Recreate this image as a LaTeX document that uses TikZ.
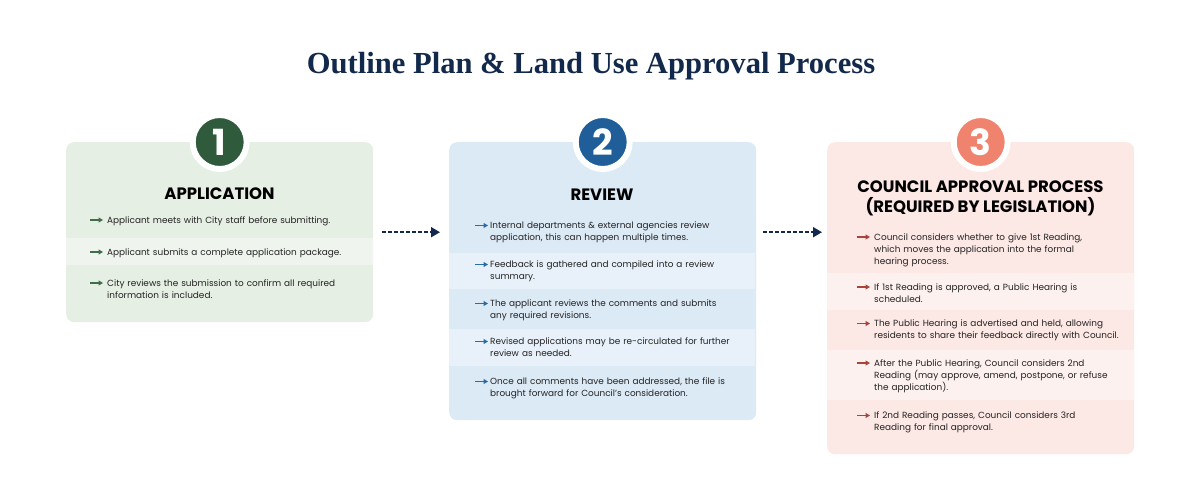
\documentclass[tikz,border=0pt]{standalone}
\usepackage{fontspec}
\setmainfont{Poppins}
\newfontfamily\titlefont{Liberation Serif}
\usetikzlibrary{arrows.meta}
\definecolor{navy}{HTML}{13294B}
\definecolor{textgray}{HTML}{222222}
\definecolor{appfill}{HTML}{E6EFE4}
\definecolor{applight}{HTML}{EFF5EE}
\definecolor{appdark}{HTML}{2F5B3C}
\definecolor{appbul}{HTML}{3F6E4A}
\definecolor{revfill}{HTML}{DCEAF6}
\definecolor{revlight}{HTML}{E8F1FA}
\definecolor{revdark}{HTML}{1F5E98}
\definecolor{revbul}{HTML}{2B6CA8}
\definecolor{coufill}{HTML}{FCE8E5}
\definecolor{coulight}{HTML}{FDF1EF}
\definecolor{coudark}{HTML}{EF836E}
\definecolor{coubul}{HTML}{A8443A}

\begin{document}
\begin{tikzpicture}[x=1pt, y=-1pt,
	panel/.style={rectangle, rounded corners=8pt, minimum width=307pt, anchor=north west, inner sep=0pt},
	badge/.style={circle, minimum size=54pt, inner sep=0pt, draw=white, line width=6pt, text=white, font=\fontsize{36}{36}\selectfont\bfseries},
	heading/.style={anchor=base, align=center, text=black, font=\fontsize{16.5}{20}\selectfont\bfseries},
	item/.style={anchor=base west, align=left, text width=280pt, inner sep=0pt, text=textgray, font=\fontsize{8.9}{12}\selectfont},
	bullet/.style={-{Triangle[length=4.5pt, width=5pt]}, line width=1.1pt},
	flow/.style={navy, line width=1.8pt, dash pattern=on 4pt off 2pt, -{Triangle[length=9pt, width=10pt]}}
	]
	\useasboundingbox[fill=white] (0, 0) rectangle (1200, 499);
	% title
	\node[text=navy, font=\titlefont\fontsize{30.6}{31}\selectfont\bfseries, anchor=base] (title)at(591, 73) {Outline Plan \& Land Use Approval Process};
	% panels
	\node[panel, fill=appfill, minimum height=180pt] (App)at(66, 142) {};
	\node[panel, fill=revfill, minimum height=278pt] (Rev)at(449, 142) {};
	\node[panel, fill=coufill, minimum height=312pt] (Cou)at(827, 142) {};
	\fill[applight] (66, 238) rectangle (373, 265);
	\fill[revlight] (449, 253) rectangle (755, 289);
	\fill[revlight] (449, 329) rectangle (755, 366);
	\fill[coulight] (827, 273) rectangle (1134, 310);
	\fill[coulight] (827, 350) rectangle (1134, 400);
	% badges and headings
	\node[badge, fill=appdark] (N1)at(App.north) {1};
	\node[badge, fill=revdark] (N2)at(Rev.north) {2};
	\node[badge, fill=coudark] (N3)at(Cou.north) {3};
	\node[heading] (H1)at(219.5, 199) {APPLICATION};
	\node[heading] (H2)at(602, 200) {REVIEW};
	\node[heading] (H3)at(980.5, 212.5) {COUNCIL APPROVAL PROCESS\\(REQUIRED BY LEGISLATION)};
	% application items
	\node[item] (App1)at(107, 223) {Applicant meets with City staff before submitting.};
	\node[item] (App2)at(107, 255) {Applicant submits a complete application package.};
	\node[item] (App3)at(107, 286) {City reviews the submission to confirm all required\\information is included.};
	% review items
	\node[item] (Rev1)at(490, 228.5) {Internal departments \& external agencies review\\application, this can happen multiple times.};
	\node[item] (Rev2)at(490, 267.5) {Feedback is gathered and compiled into a review\\summary.};
	\node[item] (Rev3)at(490, 306.5) {The applicant reviews the comments and submits\\any required revisions.};
	\node[item] (Rev4)at(490, 344.5) {Revised applications may be re-circulated for further\\review as needed.};
	\node[item] (Rev5)at(490, 384.5) {Once all comments have been addressed, the file is\\brought forward for Council's consideration.};
	% council items
	\node[item] (Cou1)at(874, 240) {Council considers whether to give 1st Reading,\\which moves the application into the formal\\hearing process.};
	\node[item] (Cou2)at(874, 290) {If 1st Reading is approved, a Public Hearing is\\scheduled.};
	\node[item] (Cou3)at(874, 326.5) {The Public Hearing is advertised and held, allowing\\residents to share their feedback directly with Council.};
	\node[item] (Cou4)at(874, 366) {After the Public Hearing, Council considers 2nd\\Reading (may approve, amend, postpone, or refuse\\the application).};
	\node[item] (Cou5)at(874, 418.5) {If 2nd Reading passes, Council considers 3rd\\Reading for final approval.};
	% bullets
	\foreach \n in {App1, App2, App3}
		\draw[bullet, appbul] ([xshift=-17pt, yshift=3pt]\n.base west) -- ([xshift=-4pt, yshift=3pt]\n.base west);
	\foreach \n in {Rev1, Rev2, Rev3, Rev4, Rev5}
		\draw[bullet, revbul] ([xshift=-15pt, yshift=3pt]\n.base west) -- ([xshift=-2pt, yshift=3pt]\n.base west);
	\foreach \n in {Cou1, Cou2, Cou3, Cou4, Cou5}
		\draw[bullet, coubul] ([xshift=-17pt, yshift=3pt]\n.base west) -- ([xshift=-4pt, yshift=3pt]\n.base west);
	% flow arrows
	\draw[flow] ([xshift=9pt]App.east) -- ([xshift=-9pt]App.east -| Rev.west);
	\draw[flow] ([xshift=7pt]App.east -| Rev.east) -- ([xshift=-5pt]App.east -| Cou.west);
\end{tikzpicture}
\end{document}
